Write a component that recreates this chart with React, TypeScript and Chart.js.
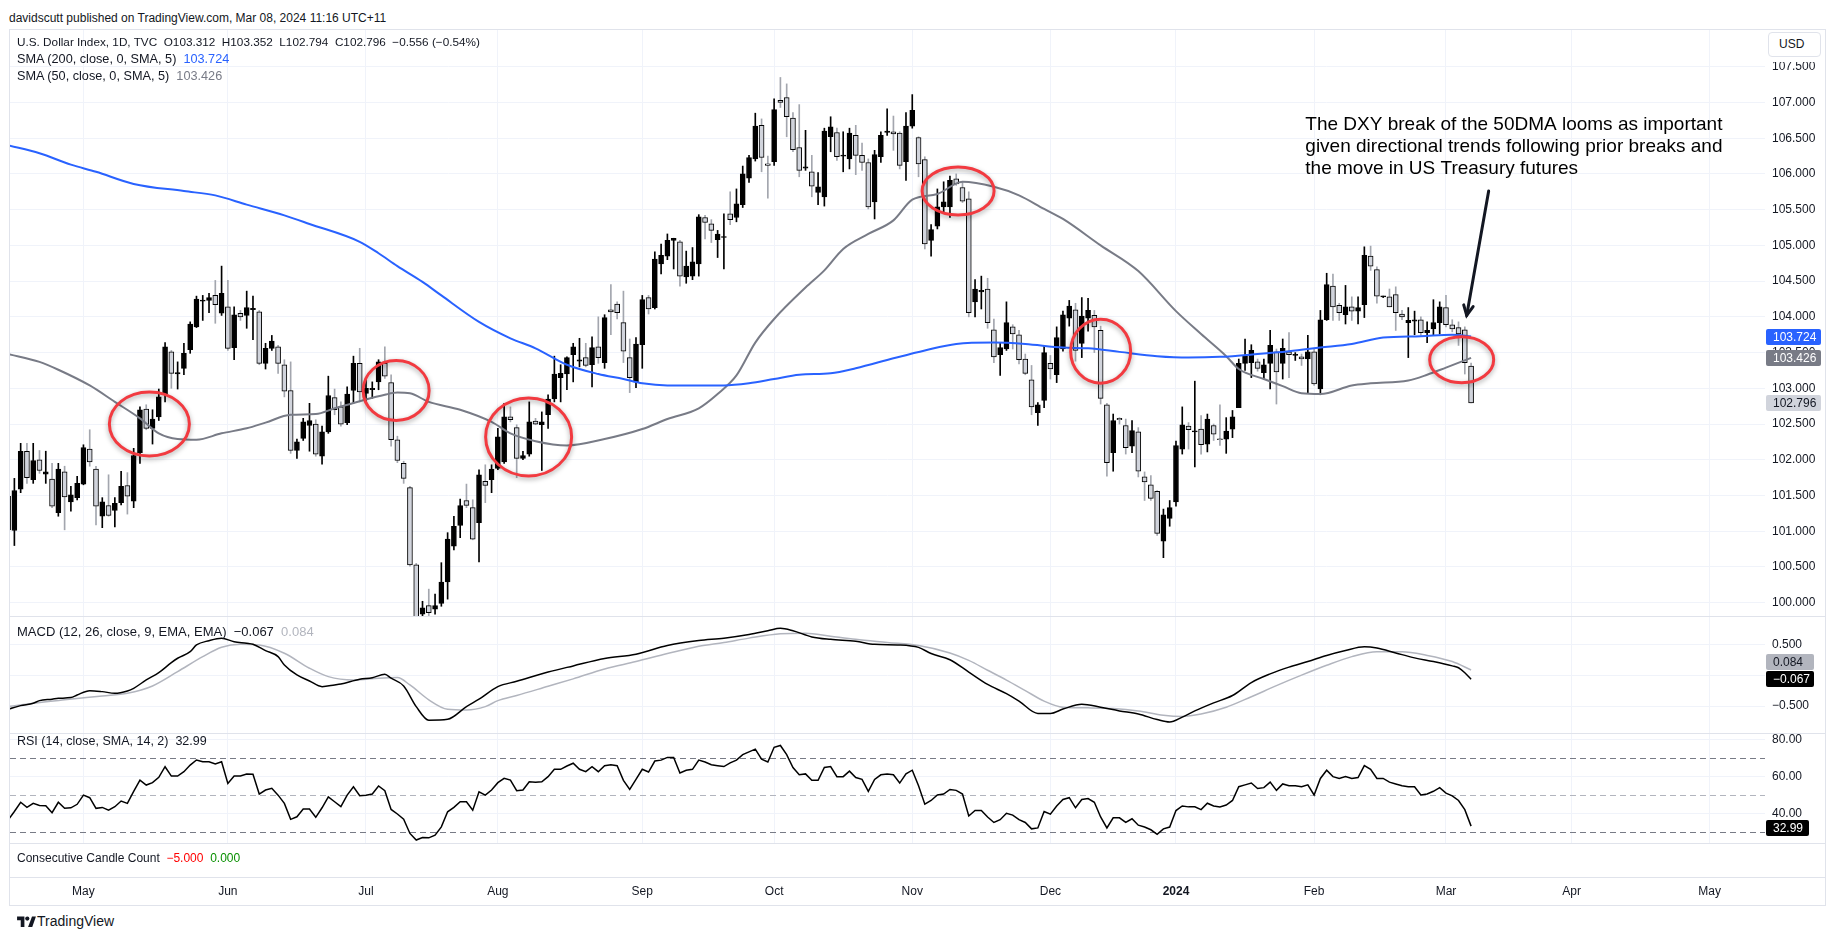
import React, { useEffect, useRef } from "react";
import { Chart, registerables } from "chart.js";
Chart.register(...registerables);

const FONT = "'Liberation Sans', Arial, sans-serif";
const TEXT = "#131722";
const GRID = "#f0f3fa";
const SEP = "#e0e3eb";

// ---------- DATA ----------
// daily bars from 13 Apr 2023 (index 0) to 7 Mar 2024 (index 233)
const opens = [101.49,101.01,101.59,102.12,101.72,102.00,101.80,101.73,101.26,101.83,101.41,101.47,101.66,102.15,101.87,101.21,101.36,101.29,101.40,101.64,101.42,102.10,102.71,102.44,102.60,102.92,103.51,103.20,103.28,103.54,103.86,104.22,104.23,104.30,104.05,104.14,103.57,104.05,104.02,104.10,104.07,103.35,103.56,103.58,103.33,102.97,102.13,102.30,102.48,102.50,102.05,102.39,102.87,102.74,102.52,102.97,103.35,102.93,102.98,103.09,103.35,103.08,102.28,101.95,101.61,100.53,99.84,99.96,99.91,99.99,100.29,100.79,101.08,101.43,101.33,101.12,101.70,101.72,101.88,101.97,102.60,102.45,102.02,102.08,102.54,102.49,102.63,102.85,103.15,103.20,103.47,103.38,103.43,103.33,103.58,103.36,104.10,104.18,103.92,103.43,103.09,103.61,104.27,104.13,104.74,104.85,105.07,105.05,104.56,104.57,104.74,105.39,105.30,105.08,105.11,105.44,105.39,105.57,105.94,106.21,106.68,106.14,106.17,107.03,107.07,106.78,106.37,106.08,106.03,105.74,105.68,106.52,106.58,106.25,106.21,106.54,106.26,106.16,105.61,106.24,106.58,106.59,106.57,106.17,106.67,106.51,106.20,105.07,105.27,105.54,105.54,105.93,105.81,105.65,104.21,104.35,104.39,103.82,103.47,103.55,103.86,103.75,103.41,103.12,102.66,102.83,103.35,103.19,103.55,103.98,104.10,103.63,103.98,104.02,103.81,102.77,102.10,102.58,102.48,102.19,102.39,101.76,101.65,101.56,100.86,101.18,101.41,102.15,102.47,102.39,102.43,102.22,102.48,102.29,102.29,102.43,102.73,103.35,103.36,103.37,103.22,103.35,103.51,103.35,103.51,103.46,103.44,103.41,103.51,102.99,103.96,104.43,104.16,104.03,104.14,104.08,104.17,104.85,104.66,104.28,104.28,104.31,104.04,103.92,103.94,103.96,103.78,103.83,103.92,104.13,103.89,103.85,103.82,103.312];
const highs = [101.55,101.74,102.23,102.23,102.23,102.13,102.12,101.95,101.95,101.91,101.63,101.77,102.21,102.42,101.91,101.47,101.79,101.47,101.84,101.82,102.16,102.74,102.77,102.70,102.99,103.64,103.53,103.37,103.63,103.93,104.29,104.30,104.33,104.51,104.71,104.51,104.14,104.09,104.36,104.29,104.09,103.63,103.74,103.60,103.40,103.37,102.29,102.58,102.79,102.56,102.47,103.17,102.99,102.81,103.02,103.45,103.56,103.12,103.09,103.40,103.58,103.19,102.33,101.98,101.63,100.55,100.02,100.19,100.12,100.56,100.98,101.21,101.45,101.66,101.44,101.86,101.93,101.93,102.44,102.79,102.74,102.49,102.12,102.81,102.58,102.67,102.91,103.45,103.33,103.44,103.63,103.70,103.63,103.72,104.00,104.03,104.45,104.21,104.36,103.69,103.71,104.30,104.30,104.91,105.02,105.16,105.10,105.07,104.92,104.97,105.43,105.42,105.36,105.21,105.44,105.75,105.79,106.11,106.26,106.85,106.77,106.25,107.05,107.35,107.26,106.86,106.97,106.61,106.26,106.02,106.64,106.80,106.64,106.59,106.64,106.68,106.43,106.21,106.33,106.59,106.91,106.81,106.59,106.86,107.11,106.52,106.24,105.29,105.79,105.89,105.97,106.00,105.89,105.75,104.52,104.57,104.54,103.97,103.64,104.21,103.89,103.81,103.48,103.32,102.80,103.59,103.46,103.86,104.08,104.23,104.19,104.27,104.26,104.09,103.87,102.79,102.64,102.59,102.57,102.55,102.45,101.83,101.78,101.57,101.31,101.43,102.26,102.74,102.52,103.10,102.62,102.64,102.50,102.77,102.59,102.69,103.41,103.69,103.61,103.41,103.41,103.81,103.55,103.69,103.78,103.50,103.48,103.74,103.55,104.09,104.61,104.60,104.19,104.44,104.28,104.28,104.98,104.99,104.70,104.29,104.39,104.42,104.09,104.13,104.08,104.00,103.93,104.24,104.21,104.30,103.96,103.93,103.86,103.352];
const lows = [100.98,100.80,101.54,101.67,101.67,101.81,101.67,101.33,101.21,101.02,101.28,101.44,101.65,101.91,101.09,101.05,101.21,101.06,101.37,101.24,101.33,101.95,102.42,102.22,102.55,102.81,103.00,102.99,103.19,103.49,103.85,103.95,104.06,103.91,104.02,103.53,103.40,103.95,103.84,103.68,103.33,103.27,103.53,103.21,102.88,102.09,102.02,102.27,102.12,102.05,101.94,102.37,102.63,102.47,102.49,102.79,102.81,102.81,102.86,102.98,103.14,102.19,101.96,101.67,100.51,99.70,99.57,99.82,99.84,99.95,100.05,100.74,100.91,101.33,100.88,100.57,101.40,101.54,101.86,101.95,102.53,101.75,102.00,102.05,102.49,101.85,102.44,102.81,102.81,102.98,103.09,103.30,103.30,103.02,103.35,103.28,103.75,103.97,103.36,102.94,103.01,103.28,104.04,104.11,104.60,104.80,104.67,104.43,104.47,104.52,104.57,105.09,105.04,104.83,104.67,105.29,105.33,105.53,105.88,106.18,106.03,105.66,106.12,106.93,106.52,106.31,105.96,106.05,105.68,105.57,105.55,106.31,106.19,106.03,106.07,105.99,106.05,105.51,105.37,106.16,106.54,106.33,106.07,105.91,106.64,105.96,104.95,104.85,105.23,105.47,105.39,105.84,105.60,104.00,104.00,104.11,103.84,103.36,103.18,103.53,103.55,103.34,103.19,102.63,102.48,102.73,103.13,103.08,103.52,103.87,103.38,103.43,103.80,103.50,102.78,101.77,101.84,102.50,102.08,102.10,101.76,101.43,101.43,100.94,100.63,101.07,101.35,102.08,102.15,101.90,102.08,102.11,102.27,102.20,102.09,102.31,102.73,103.25,103.15,103.24,103.13,102.99,102.78,103.13,103.15,103.39,103.32,102.94,103.04,102.91,103.95,103.95,103.95,103.90,103.95,103.90,103.99,104.65,104.19,104.27,104.14,103.81,103.96,103.43,103.75,103.74,103.64,103.75,103.76,103.86,103.79,103.60,103.20,102.794];
const closes = [101.02,101.57,102.12,101.75,101.99,101.85,101.83,101.35,101.87,101.48,101.51,101.67,102.17,101.97,101.35,101.41,101.22,101.39,101.63,101.49,102.06,102.70,102.44,102.57,102.88,103.58,103.21,103.22,103.49,103.90,104.25,104.23,104.27,104.17,104.33,103.56,104.03,104.00,104.13,104.12,103.35,103.56,103.66,103.35,102.96,102.13,102.25,102.53,102.55,102.08,102.39,102.90,102.70,102.50,102.92,103.35,102.95,103.00,103.00,103.37,103.17,102.28,101.99,101.74,100.53,99.77,99.93,99.86,99.96,100.29,100.89,101.07,101.36,101.36,100.89,101.79,101.64,101.87,102.32,102.60,102.56,102.02,102.06,102.53,102.50,102.53,102.85,103.20,103.21,103.43,103.58,103.40,103.32,103.57,103.43,103.99,104.07,104.06,103.52,103.15,103.62,104.24,104.11,104.81,104.86,105.07,105.10,104.57,104.71,104.77,105.40,105.32,105.21,105.16,105.12,105.36,105.58,106.00,106.23,106.67,106.23,106.12,106.90,107.00,106.80,106.34,106.05,106.10,105.83,105.82,106.60,106.66,106.24,106.26,106.57,106.26,106.16,105.54,106.27,106.54,106.60,106.56,106.12,106.67,106.89,106.14,105.02,105.22,105.54,105.61,105.91,105.86,105.62,104.06,104.39,104.37,103.92,103.44,103.57,103.92,103.76,103.40,103.21,102.74,102.77,103.50,103.27,103.71,104.03,104.15,103.53,104.01,104.09,103.86,102.86,101.96,102.55,102.56,102.17,102.41,101.84,101.69,101.46,100.97,101.23,101.33,102.20,102.49,102.42,102.40,102.21,102.57,102.36,102.28,102.40,102.60,103.35,103.45,103.53,103.28,103.33,103.60,103.23,103.56,103.47,103.47,103.41,103.51,103.06,103.96,104.45,104.14,104.06,104.14,104.08,104.13,104.86,104.71,104.29,104.29,104.14,104.06,104.00,103.95,103.96,103.78,103.81,103.92,104.14,103.89,103.83,103.76,103.36,102.796];

const sma200Idx = [0,5,10,14,20,28,33,38,44,48,56,59,62,66,69,75,80,84,89,94,98,101,105,110,114,118,122,126,131,135,141,146,151,157,162,168,172,177,183,188,193,199,204,209,214,219,225,230,233];
const sma200Val = [106.40,106.29,106.13,106.03,105.86,105.76,105.70,105.57,105.42,105.30,105.05,104.89,104.71,104.49,104.30,103.93,103.70,103.56,103.33,103.20,103.13,103.07,103.04,103.04,103.04,103.07,103.13,103.19,103.21,103.28,103.42,103.53,103.62,103.64,103.62,103.57,103.56,103.51,103.45,103.43,103.44,103.48,103.52,103.57,103.62,103.71,103.73,103.75,103.724];

const sma50Idx = [0,5,8,13,17,21,24,27,30,34,38,41,45,49,52,56,60,62,64,67,72,77,80,84,89,95,101,105,110,113,116,119,122,127,130,133,137,141,144,148,152,157,161,165,168,174,180,186,190,194,196,200,203,206,209,214,217,223,226,229,233];
const sma50Val = [103.48,103.37,103.26,103.04,102.81,102.58,102.37,102.29,102.28,102.37,102.44,102.52,102.63,102.64,102.72,102.82,102.91,102.94,102.93,102.81,102.70,102.53,102.37,102.26,102.20,102.29,102.43,102.57,102.72,102.92,103.18,103.64,103.97,104.41,104.65,104.95,105.16,105.35,105.64,105.72,105.89,105.82,105.70,105.51,105.37,105.00,104.64,104.08,103.76,103.45,103.27,103.13,103.03,102.93,102.92,103.04,103.07,103.11,103.19,103.29,103.426];

const macdIdx = [0,2,4,5,7,8,10,11,13,15,17,19,20,22,24,26,27,29,30,32,34,36,38,39,41,43,44,46,48,50,52,53,56,58,60,61,63,65,67,70,73,75,78,81,86,90,95,100,105,110,114,118,121,123,125,128,131,135,138,142,145,147,150,153,156,159,161,164,166,168,171,174,177,180,183,185,187,189,192,195,198,201,204,207,210,213,216,218,221,224,227,230,231,232,233];
const macdVal = [-0.553,-0.494,-0.456,-0.413,-0.39,-0.375,-0.364,-0.321,-0.251,-0.267,-0.294,-0.256,-0.213,-0.078,0.041,0.203,0.274,0.381,0.489,0.559,0.598,0.543,0.517,0.50,0.397,0.30,0.165,0.003,-0.094,-0.186,-0.159,-0.143,-0.066,-0.041,0.015,-0.05,-0.175,-0.51,-0.73,-0.715,-0.51,-0.39,-0.186,-0.10,0.05,0.15,0.27,0.34,0.48,0.56,0.60,0.66,0.72,0.76,0.72,0.62,0.58,0.55,0.50,0.49,0.45,0.35,0.25,0.05,-0.15,-0.30,-0.42,-0.62,-0.62,-0.55,-0.47,-0.52,-0.58,-0.63,-0.72,-0.76,-0.68,-0.58,-0.45,-0.33,-0.12,0.02,0.13,0.22,0.32,0.40,0.46,0.44,0.36,0.28,0.22,0.15,0.12,0.04,-0.067];
const signalIdx = [0,4,9,15,19,23,27,31,34,37,40,44,48,51,55,59,62,64,67,70,73,76,78,81,86,90,95,100,105,110,114,118,123,127,131,135,140,145,150,153,156,159,162,165,168,172,176,180,184,187,190,194,198,202,206,210,214,218,222,226,230,233];
const signalVal = [-0.51,-0.456,-0.40,-0.337,-0.294,-0.175,0.057,0.30,0.452,0.50,0.489,0.355,0.112,-0.024,-0.078,-0.05,-0.04,-0.159,-0.40,-0.553,-0.564,-0.51,-0.413,-0.33,-0.18,-0.06,0.10,0.22,0.35,0.47,0.53,0.60,0.67,0.68,0.63,0.58,0.53,0.48,0.36,0.24,0.08,-0.08,-0.25,-0.42,-0.52,-0.53,-0.54,-0.58,-0.65,-0.67,-0.63,-0.52,-0.35,-0.17,0.00,0.16,0.30,0.38,0.38,0.32,0.22,0.084];

const rsiVal = [36.3,41,46,43.2,45.4,44.3,44.1,40.3,46,42.7,43,44.9,49.9,48.5,42.7,43.2,41.7,43.6,46.7,45.4,52,58.1,55.4,56.7,59.6,65.4,60.3,60.3,62.7,66.3,69.1,68.1,68.1,66.9,68.1,56.3,60.3,60.3,61.4,61.3,50.5,52.7,53.6,49.9,45.4,36.7,38.1,42.3,42.3,37.8,43,49.0,46.3,43.6,49.9,54.5,49.6,49.9,50.5,54.9,52.3,42.1,39.6,36.8,29.0,25.4,26.8,26.6,28.1,32.6,40.8,43.2,46.3,46.3,41.7,51.7,49.9,52.7,56.7,59.1,58.1,52.3,52.7,57.2,57,57.2,60,64.0,64.0,65.8,67.3,64.0,62.7,65.4,62.7,66,66.5,66,58,53,58.5,64,62.5,68.5,69,70.5,70.5,62,63.5,64,69,68,66.5,66,65.5,67.5,69,72,73.5,75,69.5,68,76,77,72,65,61,61.5,58,58,65,65.5,60,60,63,59.5,58.5,52,58.5,61,61.5,61,56.5,61.5,63.5,55,45,47,50,50.5,53,52.5,50.5,38.5,41.5,41.5,38,35,36.5,40,39,36.5,35,31.5,32,41,39.5,44,47.5,48.5,43,47.5,48,46,38,32,37.5,37.5,35,37,33.5,32.5,31,28.5,31.5,32.5,41.5,44,43.5,43.5,42,45.5,44,43.5,44.5,47,54.5,55.5,56.5,53.5,54,57,52.5,56,55,55,54.5,55.5,50,59,63.5,60,59,60,59,59.5,66,64,59,59,57,56,55,54.5,54.5,50,50.5,52,54,51,49.5,47,42,32.99];

const monthTickIdx = [12,35,57,78,101,122,144,166,186,208,229,249,271];
const monthTickLabels = ["May","Jun","Jul","Aug","Sep","Oct","Nov","Dec","2024","Feb","Mar","Apr","May"];
const priceTicks = [100,100.5,101,101.5,102,102.5,103,103.5,104,104.5,105,105.5,106,106.5,107,107.5];
const macdTicks = [-0.5,0,0.5];
const rsiTicks = [40,60,80];
const rsiLevels = [70,50,30];

const lastValues = { sma200: 103.724, sma50: 103.426, close: 102.796, macd: -0.067, signal: 0.084, rsi: 32.99 };

// annotations (centre in bar index / price)
const circleIdx = [22.5, 61.8, 82.9, 151.3, 174, 231.5];
const circlePrice = [102.50, 102.97, 102.32, 105.76, 103.52, 103.40];
const circleRx = [40, 33, 43, 36, 30, 32];
const circleRy = [32, 30, 39, 24, 32, 23];
const noteLines = [
  "The DXY break of the 50DMA looms as important",
  "given directional trends following prior breaks and",
  "the move in US Treasury futures",
];
const noteAnchor = { idx: 206.6, price: 106.684 };
const arrowFrom = { idx: 235.8, price: 105.76 };
const arrowTo = { idx: 232.3, price: 104.02 };

// ---------- LAYOUT ----------
const X_MIN = 0.3026;
const X_MAX = 279.81;

const fmtMinus = (s: string) => s.replace("-", "\u2212");

function xScale(showLabels: boolean): any {
  return {
    type: "linear",
    min: X_MIN,
    max: X_MAX,
    offset: false,
    afterBuildTicks: (s: any) => {
      s.ticks = monthTickIdx.map((v) => ({ value: v }));
    },
    afterFit: (s: any) => {
      s.height = showLabels ? 27 : 0;
      s.paddingLeft = 0;
      s.paddingRight = 0;
      s.paddingTop = 0;
      s.paddingBottom = 0;
    },
    grid: { display: !showLabels, color: GRID, drawTicks: false, lineWidth: 1, offset: false },
    border: { display: false },
    ticks: {
      display: showLabels,
      autoSkip: false,
      maxRotation: 0,
      padding: 7,
      color: TEXT,
      font: (c: any) => ({ family: FONT, size: 12, weight: monthTickLabels[c.index] === "2024" ? "bold" : "normal" }),
      callback: (_v: any, i: number) => monthTickLabels[i],
    },
  };
}

function yScale(min: number, max: number, ticks: number[], fmt: (v: number) => string, grid = true): any {
  return {
    position: "right",
    min,
    max,
    afterBuildTicks: (s: any) => {
      s.ticks = ticks.map((v) => ({ value: v }));
    },
    afterFit: (s: any) => {
      s.width = 60;
      s.paddingTop = 0;
      s.paddingBottom = 0;
      s.paddingLeft = 0;
      s.paddingRight = 0;
    },
    grid: { display: grid, color: GRID, drawTicks: false },
    border: { display: false },
    ticks: { padding: 7, color: TEXT, font: { family: FONT, size: 12 }, callback: (v: any) => fmt(Number(v)) },
  };
}

type Badge = { value: number; text: string; bg: string; fg: string; w: number; shift: number };

const makeBadgePlugin = (items: Badge[]) => ({
  id: "badges",
  afterDraw(chart: any) {
    const ys = chart.scales.y;
    const ctx = chart.ctx;
    items.forEach((b) => {
      const py = Math.round(ys.getPixelForValue(b.value)) + b.shift;
      ctx.save();
      ctx.fillStyle = b.bg;
      ctx.beginPath();
      ctx.roundRect(ys.left + 1, py - 8, b.w, 16, 2);
      ctx.fill();
      ctx.fillStyle = b.fg;
      ctx.font = `12px ${FONT}`;
      ctx.textBaseline = "middle";
      ctx.textAlign = "left";
      ctx.fillText(b.text, ys.left + 8, py + 1);
      ctx.restore();
    });
  },
});

const levelPlugin = {
  id: "levels",
  beforeDatasetsDraw(chart: any) {
    const { ctx, chartArea, scales } = chart;
    rsiLevels.forEach((lv) => {
      const py = Math.round(scales.y.getPixelForValue(lv)) + 0.5;
      ctx.save();
      ctx.setLineDash([6, 4]);
      ctx.strokeStyle = lv === 50 ? "#b2b5be" : "#787b86";
      ctx.lineWidth = 1;
      ctx.beginPath();
      ctx.moveTo(chartArea.left, py);
      ctx.lineTo(chartArea.right, py);
      ctx.stroke();
      ctx.restore();
    });
  },
};

const annotationPlugin = {
  id: "annot",
  afterDatasetsDraw(chart: any) {
    const { ctx, scales } = chart;
    const x = scales.x, y = scales.y;
    ctx.save();
    circleIdx.forEach((ci, i) => {
      ctx.save();
      ctx.beginPath();
      ctx.ellipse(x.getPixelForValue(ci), y.getPixelForValue(circlePrice[i]), circleRx[i], circleRy[i], 0, 0, Math.PI * 2);
      ctx.shadowColor = "rgba(0,0,0,0.35)";
      ctx.shadowBlur = 5;
      ctx.shadowOffsetY = 2;
      ctx.strokeStyle = "#f23a40";
      ctx.lineWidth = 3;
      ctx.stroke();
      ctx.restore();
    });
    // arrow
    const x1 = x.getPixelForValue(arrowFrom.idx), y1 = y.getPixelForValue(arrowFrom.price);
    const x2 = x.getPixelForValue(arrowTo.idx), y2 = y.getPixelForValue(arrowTo.price);
    const ang = Math.atan2(y2 - y1, x2 - x1);
    ctx.strokeStyle = "#131722";
    ctx.lineWidth = 3;
    ctx.lineCap = "round";
    ctx.beginPath();
    ctx.moveTo(x1, y1);
    ctx.lineTo(x2, y2);
    ctx.stroke();
    const ah = 11;
    ctx.beginPath();
    ctx.moveTo(x2 - ah * Math.cos(ang - 0.45), y2 - ah * Math.sin(ang - 0.45));
    ctx.lineTo(x2, y2);
    ctx.lineTo(x2 - ah * Math.cos(ang + 0.45), y2 - ah * Math.sin(ang + 0.45));
    ctx.stroke();
    // note
    ctx.fillStyle = "#000";
    ctx.font = `19px ${FONT}`;
    ctx.textBaseline = "middle";
    ctx.textAlign = "left";
    const nx = x.getPixelForValue(noteAnchor.idx), ny = y.getPixelForValue(noteAnchor.price);
    noteLines.forEach((t, i) => ctx.fillText(t, nx, ny + i * 21.8));
    ctx.restore();
  },
};

const baseOpts = (scales: any) => ({
  animation: false,
  responsive: false,
  maintainAspectRatio: false,
  events: [],
  layout: { padding: 0 },
  plugins: { legend: { display: false }, tooltip: { enabled: false } },
  scales,
});

const pts = (idx: number[], val: number[]) => idx.map((x, i) => ({ x, y: val[i] }));

export default function App() {
  const mainRef = useRef<HTMLCanvasElement>(null);
  const macdRef = useRef<HTMLCanvasElement>(null);
  const rsiRef = useRef<HTMLCanvasElement>(null);
  const cntRef = useRef<HTMLCanvasElement>(null);

  useEffect(() => {
    const up = closes.map((c, i) => c >= opens[i]);
    const bodies = opens.map((o, i) => ({ x: i, y: [Math.min(o, closes[i]), Math.max(o, closes[i])] }));
    const wicks = lows.map((l, i) => ({ x: i, y: [l, highs[i]] }));

    const main = new Chart(mainRef.current!, {
      type: "bar",
      data: {
        datasets: [
          { type: "line", data: pts(sma200Idx, sma200Val), borderColor: "#2962ff", borderWidth: 2, pointRadius: 0, cubicInterpolationMode: "monotone", order: 0 } as any,
          { type: "line", data: pts(sma50Idx, sma50Val), borderColor: "#787b86", borderWidth: 2, pointRadius: 0, cubicInterpolationMode: "monotone", order: 0 } as any,
          { type: "bar", data: bodies, backgroundColor: up.map((u) => (u ? "#000000" : "#d1d4dc")), borderColor: "#000000", borderWidth: 1, borderSkipped: false, barThickness: 5, grouped: false, minBarLength: 1, order: 1 } as any,
          { type: "bar", data: wicks, backgroundColor: up.map((u) => (u ? "#000000" : "#a3a6ae")), borderWidth: 0, barThickness: 1, grouped: false, minBarLength: 1, order: 2 } as any,
        ],
      },
      options: baseOpts({ x: xScale(false), y: yScale(99.814, 108.014, priceTicks, (v) => v.toFixed(3)) }) as any,
      plugins: [
        annotationPlugin,
        makeBadgePlugin([
          { value: lastValues.sma200, text: lastValues.sma200.toFixed(3), bg: "#2962ff", fg: "#ffffff", w: 55, shift: 0 },
          { value: lastValues.sma50, text: lastValues.sma50.toFixed(3), bg: "#787b86", fg: "#ffffff", w: 55, shift: 0 },
          { value: lastValues.close, text: lastValues.close.toFixed(3), bg: "#d1d4dc", fg: TEXT, w: 55, shift: 0 },
        ]),
      ],
    });

    const macd = new Chart(macdRef.current!, {
      type: "line",
      data: {
        datasets: [
          { data: pts(macdIdx, macdVal), borderColor: "#000000", borderWidth: 1.5, pointRadius: 0, cubicInterpolationMode: "monotone", order: 0 } as any,
          { data: pts(signalIdx, signalVal), borderColor: "#b2b5be", borderWidth: 1.5, pointRadius: 0, cubicInterpolationMode: "monotone", order: 1 } as any,
        ],
      },
      options: baseOpts({ x: xScale(false), y: yScale(-0.9376, 0.9425, macdTicks, (v) => (v === 0 ? "" : fmtMinus(v.toFixed(3)))) }) as any,
      plugins: [
        makeBadgePlugin([
          { value: lastValues.signal, text: lastValues.signal.toFixed(3), bg: "#b2b5be", fg: TEXT, w: 48, shift: -8 },
          { value: lastValues.macd, text: fmtMinus(lastValues.macd.toFixed(3)), bg: "#000000", fg: "#ffffff", w: 48, shift: 0 },
        ]),
      ],
    });

    const rsi = new Chart(rsiRef.current!, {
      type: "line",
      data: {
        datasets: [{ data: rsiVal.map((v, i) => ({ x: i, y: v })), borderColor: "#000000", borderWidth: 1.5, pointRadius: 0, tension: 0 } as any],
      },
      options: baseOpts({ x: xScale(false), y: yScale(23.78, 83.27, rsiTicks, (v) => v.toFixed(2)) }) as any,
      plugins: [
        levelPlugin,
        makeBadgePlugin([{ value: lastValues.rsi, text: lastValues.rsi.toFixed(2), bg: "#000000", fg: "#ffffff", w: 43, shift: 2 }]),
      ],
    });

    const cnt = new Chart(cntRef.current!, {
      type: "line",
      data: { datasets: [] },
      options: baseOpts({ x: xScale(true), y: { ...yScale(0, 1, [], () => "", false) } }) as any,
    });

    return () => {
      main.destroy();
      macd.destroy();
      rsi.destroy();
      cnt.destroy();
    };
  }, []);

  const abs = (s: any) => ({ position: "absolute" as const, ...s });
  const txt = (left: number, cy: number, size: number) =>
    abs({ left, top: cy - 8, height: 16, lineHeight: "16px", fontSize: size, whiteSpace: "pre", color: TEXT });

  return (
    <div style={{ position: "fixed", left: 0, top: 0, width: 1835, height: 940, background: "#fff", fontFamily: FONT, overflow: "hidden" }}>
      <div style={txt(9, 17.5, 12)}>davidscutt published on TradingView.com, Mar 08, 2024 11:16 UTC+11</div>
      <div style={abs({ left: 9, top: 29, width: 1817, height: 877, border: `1px solid ${SEP}`, boxSizing: "border-box" })} />
      <canvas ref={mainRef} width={1815} height={586} style={abs({ left: 10, top: 30 })} />
      <canvas ref={macdRef} width={1815} height={116} style={abs({ left: 10, top: 617 })} />
      <canvas ref={rsiRef} width={1815} height={109} style={abs({ left: 10, top: 734 })} />
      <canvas ref={cntRef} width={1815} height={60} style={abs({ left: 10, top: 844 })} />
      {[616, 733, 843, 877].map((yy) => (
        <div key={yy} style={abs({ left: 10, top: yy, width: 1815, height: 1, background: SEP })} />
      ))}
      <div style={abs({ left: 1766, top: 30, width: 58, height: 32, background: "#fff" })} />
      <div style={abs({ left: 1768, top: 32, width: 53, height: 25, border: `1px solid ${SEP}`, borderRadius: 4, boxSizing: "border-box", fontSize: 12, lineHeight: "23px", paddingLeft: 10, color: TEXT })}>USD</div>

      <div style={txt(17, 42, 11.75)}>U.S. Dollar Index, 1D, TVC  O103.312  H103.352  L102.794  C102.796  −0.556 (−0.54%)</div>
      <div style={txt(17, 59, 12.7)}>SMA (200, close, 0, SMA, 5)  <span style={{ color: "#2962ff" }}>103.724</span></div>
      <div style={txt(17, 76, 12.7)}>SMA (50, close, 0, SMA, 5)  <span style={{ color: "#787b86" }}>103.426</span></div>
      <div style={txt(17, 632, 13)}>MACD (12, 26, close, 9, EMA, EMA)  −0.067  <span style={{ color: "#b2b5be" }}>0.084</span></div>
      <div style={txt(17, 741, 12.5)}>RSI (14, close, SMA, 14, 2)  32.99</div>
      <div style={txt(17, 858, 12)}>Consecutive Candle Count  <span style={{ color: "#f00" }}>−5.000</span>  <span style={{ color: "#089000" }}>0.000</span></div>

      <svg width="19" height="11" viewBox="0 0 36 21" style={abs({ left: 17, top: 916 })}>
        <path d="M14 21H7V8H0V1h14v20zM29 21h-8L28.5 1h7.5L29 21z" fill="#131722" />
        <circle cx="19.5" cy="5" r="4" fill="#131722" />
      </svg>
      <div style={abs({ left: 37, top: 913, fontSize: 14, lineHeight: "16px", color: TEXT })}>TradingView</div>
    </div>
  );
}
